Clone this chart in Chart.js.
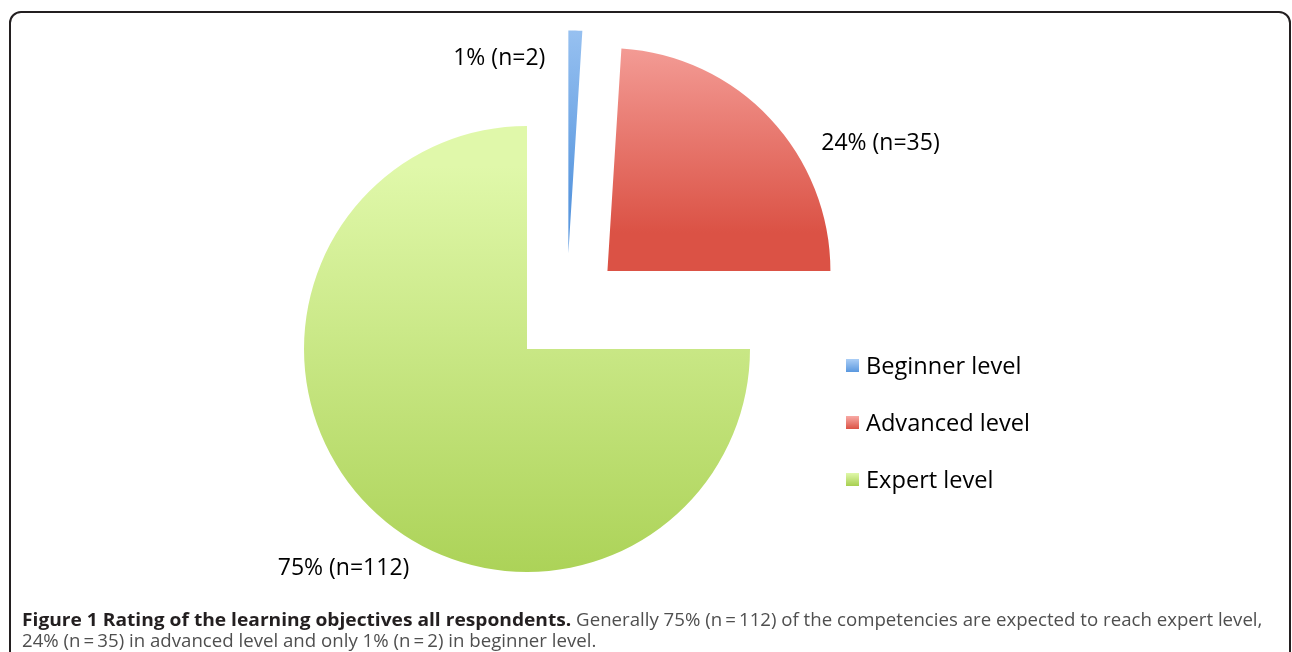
<!DOCTYPE html>
<html>
<head>
<meta charset="utf-8">
<script src="https://cdn.jsdelivr.net/npm/chart.js@4.4.1/dist/chart.umd.min.js"></script>
<style>
  html, body { margin: 0; padding: 0; background: #fff; }
  #wrap { position: relative; width: 1292px; height: 652px; overflow: hidden; font-family: "Open Sans", sans-serif; }
  #frame { position: absolute; left: 9px; top: 11px; width: 1282px; height: 700px; border: 2px solid #231f20; border-radius: 12px; box-sizing: border-box; }
  #pie { position: absolute; left: 0; top: 0; }
  #legend { position: absolute; left: 846px; top: 337px; }
  .row { height: 57px; line-height: 57px; font-size: 23.6px; color: #000; white-space: nowrap; }
  .sw { display: inline-block; width: 13px; height: 13px; margin-right: 7px; vertical-align: middle; position: relative; top: -2px; }
  #caption { position: absolute; left: 22px; top: 609px; font-size: 17.5px; line-height: 21px; color: #4f4f4f; transform-origin: 0 0; white-space: nowrap; }
  #caption b { color: #231f20; font-size: 18px; }
</style>
</head>
<body>
<div id="wrap">
  <div id="frame"></div>
  <canvas id="pie" width="1292" height="652"></canvas>
  <div id="legend"></div>
  <div id="caption">
    <div id="line1"><b>Figure 1 Rating of the learning objectives all respondents.</b> Generally 75% (n&#8201;=&#8201;112) of the competencies are expected to reach expert level,</div>
    <div>24% (n&#8201;=&#8201;35) in advanced level and only 1% (n&#8201;=&#8201;2) in beginner level.</div>
  </div>
</div>
<script>
// ---- data ----
const categories = ["Beginner level", "Advanced level", "Expert level"];
const percentages = [1, 24, 75];
const counts = [2, 35, 112];

// ---- colours (top / bottom of each slice gradient) ----
const topColors = ["#abcef6", "#f8aaa5", "#e0f8aa"];
const bottomColors = ["#5a98df", "#db5245", "#a7cf50"];

// exploded slices + vertical gradients
const explodePlugin = {
  id: "explode",
  beforeDatasetsDraw(chart, args, opts) {
    const d = opts.distance;
    const ctx = chart.ctx;
    chart.getDatasetMeta(0).data.forEach((arc, i) => {
      if (!arc._exploded) {
        const baseDraw = arc.draw;
        arc.draw = function (c) {
          const mid = (this.startAngle + this.endAngle) / 2;
          c.save();
          c.translate(Math.cos(mid) * d, Math.sin(mid) * d);
          baseDraw.call(this, c);
          c.restore();
        };
        arc._exploded = true;
      }
      const mid = (arc.startAngle + arc.endAngle) / 2;
      const cy = arc.y + Math.sin(mid) * d;
      const R = arc.outerRadius;
      const ys = [cy, cy + R * Math.sin(arc.startAngle), cy + R * Math.sin(arc.endAngle)];
      const has = (t) => {
        for (let k = -2; k <= 2; k++) {
          const a = t + k * 2 * Math.PI;
          if (a >= arc.startAngle && a <= arc.endAngle) return true;
        }
        return false;
      };
      if (has(-Math.PI / 2)) ys.push(cy - R);
      if (has(Math.PI / 2)) ys.push(cy + R);
      const g = ctx.createLinearGradient(0, Math.min(...ys), 0, Math.max(...ys));
      g.addColorStop(0, topColors[i]);
      g.addColorStop(1, bottomColors[i]);
      arc.options = Object.assign({}, arc.options, { backgroundColor: g });
    });
  },
  afterDatasetsDraw(chart, args, opts) {
    const d = opts.distance;
    const ctx = chart.ctx;
    ctx.save();
    ctx.font = "23px 'Open Sans'";
    ctx.fillStyle = "#000";
    ctx.textAlign = "center";
    ctx.textBaseline = "middle";
    chart.getDatasetMeta(0).data.forEach((arc, i) => {
      const mid = (arc.startAngle + arc.endAngle) / 2;
      const cx = arc.x + Math.cos(mid) * d;
      const cy = arc.y + Math.sin(mid) * d;
      const p = opts.labelPlaces[i];
      const a = p.angle * Math.PI / 180;
      ctx.fillText(percentages[i] + "% (n=" + counts[i] + ")", cx + Math.cos(a) * p.dist, cy + Math.sin(a) * p.dist);
    });
    ctx.restore();
  }
};

new Chart(document.getElementById("pie"), {
  type: "pie",
  data: {
    labels: categories,
    datasets: [{
      data: percentages,
      backgroundColor: bottomColors,
      borderWidth: 0,
      radius: 223
    }]
  },
  options: {
    responsive: false,
    animation: false,
    devicePixelRatio: 1,
    radius: 223,
    layout: { padding: { left: 0, top: 0, right: 158.8, bottom: 33.2 } },
    plugins: {
      legend: { display: false },
      tooltip: { enabled: false },
      explode: {
        distance: 56,
        labelPlaces: [
          { angle: -109.5, dist: 207 },
          { angle: -25.1, dist: 301.5 },
          { angle: 129.9, dist: 286 }
        ]
      }
    }
  },
  plugins: [explodePlugin]
});

// ---- legend ----
const legend = document.getElementById("legend");
categories.forEach((name, i) => {
  const row = document.createElement("div");
  row.className = "row";
  const sw = document.createElement("span");
  sw.className = "sw";
  sw.style.background = "linear-gradient(" + topColors[i] + "," + bottomColors[i] + ")";
  row.appendChild(sw);
  row.appendChild(document.createTextNode(name));
  legend.appendChild(row);
});

// ---- fit caption width ----
const line1 = document.getElementById("line1");
const w = line1.scrollWidth;
document.getElementById("caption").style.transform = "scaleX(" + (1240 / w) + ")";
</script>
</body>
</html>
